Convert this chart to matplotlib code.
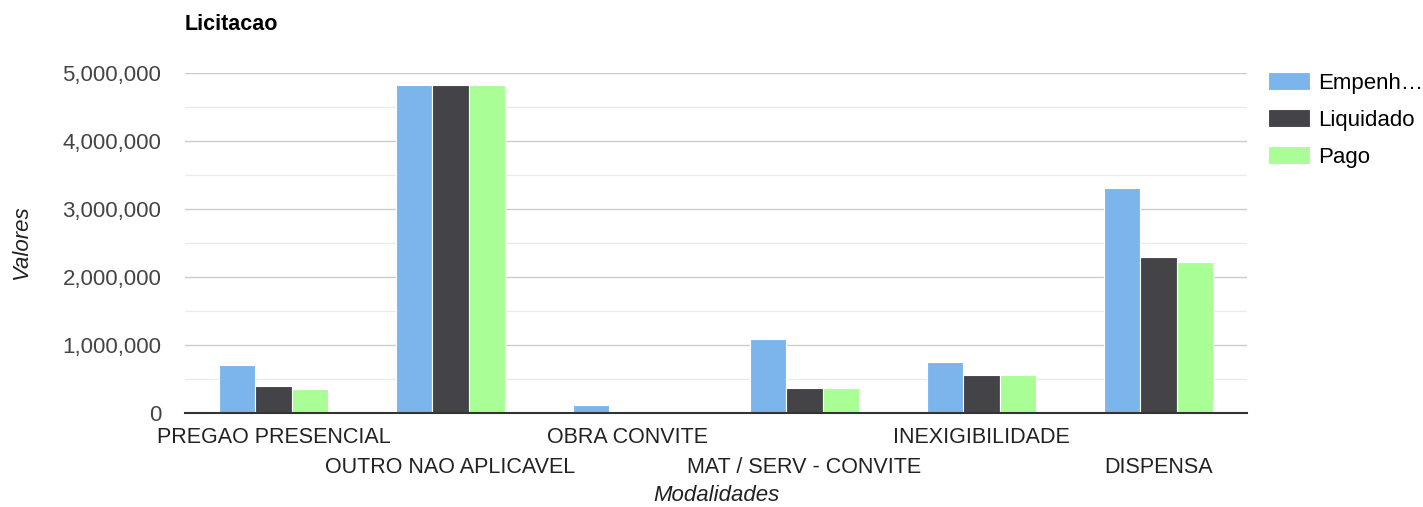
import numpy as np
import matplotlib
matplotlib.use("Agg")
import matplotlib.pyplot as plt
from matplotlib.ticker import FuncFormatter, MultipleLocator

# dados
modalidades = ["PREGAO PRESENCIAL", "OUTRO NAO APLICAVEL", "OBRA CONVITE",
               "MAT / SERV - CONVITE", "INEXIGIBILIDADE", "DISPENSA"]
empenhado = [700000, 4820000, 118000, 1093000, 745000, 3313000]
liquidado = [393000, 4820000, 3000, 372000, 559000, 2290000]
pago = [349000, 4820000, 10000, 372000, 555000, 2216000]
series = ["Empenh…", "Liquidado", "Pago"]
cores = ["#7cb5ec", "#434348", "#a9ff96"]

plt.rcParams['font.family'] = ['Arimo', 'Liberation Sans', 'DejaVu Sans']

fig = plt.figure(figsize=(14.23, 5.07), dpi=100)
ax = fig.add_axes([185/1423, 1-413/507, (1247-185)/1423, (413-73)/507])

x = np.arange(len(modalidades))
w = 0.207
for i, (vals, cor, nome) in enumerate(zip([empenhado, liquidado, pago], cores, series)):
    ax.bar(x + (i-1)*w, vals, w, color=cor, edgecolor="white", linewidth=0.8, label=nome, zorder=3)

ax.set_xlim(-0.5, len(modalidades)-0.5)
ax.set_ylim(0, 5000000)
ax.yaxis.set_major_locator(MultipleLocator(1000000))
ax.yaxis.set_minor_locator(MultipleLocator(500000))
ax.yaxis.set_major_formatter(FuncFormatter(lambda v, p: f"{int(v):,}"))
ax.grid(axis="y", which="major", color="#cccccc", linewidth=1, zorder=0)
ax.grid(axis="y", which="minor", color="#ebebeb", linewidth=1, zorder=0)
ax.set_axisbelow(True)
for s in ["top", "right", "left"]:
    ax.spines[s].set_visible(False)
ax.spines["bottom"].set_color("#333333")
ax.spines["bottom"].set_linewidth(1.5)
ax.spines["bottom"].set_zorder(4)
ax.tick_params(axis="y", which="both", length=0, labelsize=16, labelcolor="#444444", pad=17)
ax.tick_params(axis="x", length=0, labelsize=15.5, labelcolor="#222222", pad=10)

ax.set_xticks(x)
ax.set_xticklabels(modalidades)
# rotulos alternados em duas linhas
for i, t in enumerate(ax.xaxis.get_major_ticks()):
    if i % 2 == 1:
        t.set_pad(32)

ax.set_ylabel("Valores", fontsize=16, style="italic", color="#222222", labelpad=22)
ax.set_xlabel("Modalidades", fontsize=16, style="italic", color="#222222")
ax.xaxis.set_label_coords(0.5, -0.212)
fig.text(185/1423, 1-24/507, "Licitacao", fontsize=15.5, fontweight="bold", va="center", ha="left")

fig.legend(loc="upper left", bbox_to_anchor=(1268/1423, 1-72/507), frameon=False, fontsize=16,
           borderpad=0, borderaxespad=0, handlelength=1.9, handleheight=0.9,
           handletextpad=0.36, labelspacing=0.68)

fig.savefig("out.png", dpi=100)
